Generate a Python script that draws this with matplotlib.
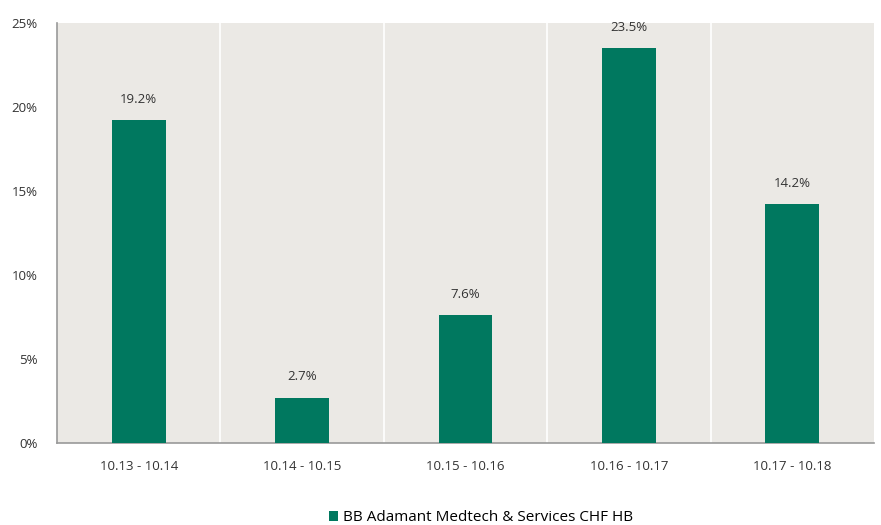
import matplotlib.pyplot as plt
from matplotlib.ticker import FuncFormatter

periods = ['10.13 - 10.14', '10.14 - 10.15', '10.15 - 10.16', '10.16 - 10.17', '10.17 - 10.18']
returns = [19.2, 2.7, 7.6, 23.5, 14.2]
series_name = 'BB Adamant Medtech & Services CHF HB'

bar_color = '#00785f'
bg_color = '#ebe9e5'

plt.rcParams['font.family'] = ['Open Sans', 'DejaVu Sans']

fig = plt.figure(figsize=(8.81, 5.25), dpi=100)
ax = fig.add_axes([57 / 881, 1 - 443 / 525, (874 - 57) / 881, (443 - 23) / 525])
ax.set_facecolor(bg_color)

x = range(len(periods))
bars = ax.bar(x, returns, width=0.33, color=bar_color, label=series_name, zorder=3)
for xi, v in zip(x, returns):
    ax.text(xi, v + 0.85, f'{v:.1f}%', ha='center', va='bottom', fontsize=9.5, color='#333333')

# white separators between categories
for b in range(1, len(periods)):
    ax.axvline(b - 0.5, color='white', lw=1.2, zorder=2)

ax.set_xlim(-0.5, len(periods) - 0.5)
ax.set_ylim(0, 25)
ax.set_yticks(range(0, 26, 5))
ax.yaxis.set_major_formatter(FuncFormatter(lambda v, p: f'{v:.0f}%'))
ax.set_xticks(list(x))
ax.set_xticklabels(periods)
ax.tick_params(length=0, labelsize=9.5, colors='#333333')
ax.tick_params(axis='x', pad=12)
ax.tick_params(axis='y', pad=14)

for s in ['top', 'right']:
    ax.spines[s].set_visible(False)
for s in ['left', 'bottom']:
    ax.spines[s].set_color('#999999')
    ax.spines[s].set_linewidth(1.2)

fig.legend(loc='lower center', bbox_to_anchor=(0.546, -0.027), frameon=False, fontsize=11,
           handlelength=0.6, handleheight=0.6, handletextpad=0.3)

fig.savefig('out.png', dpi=100)
